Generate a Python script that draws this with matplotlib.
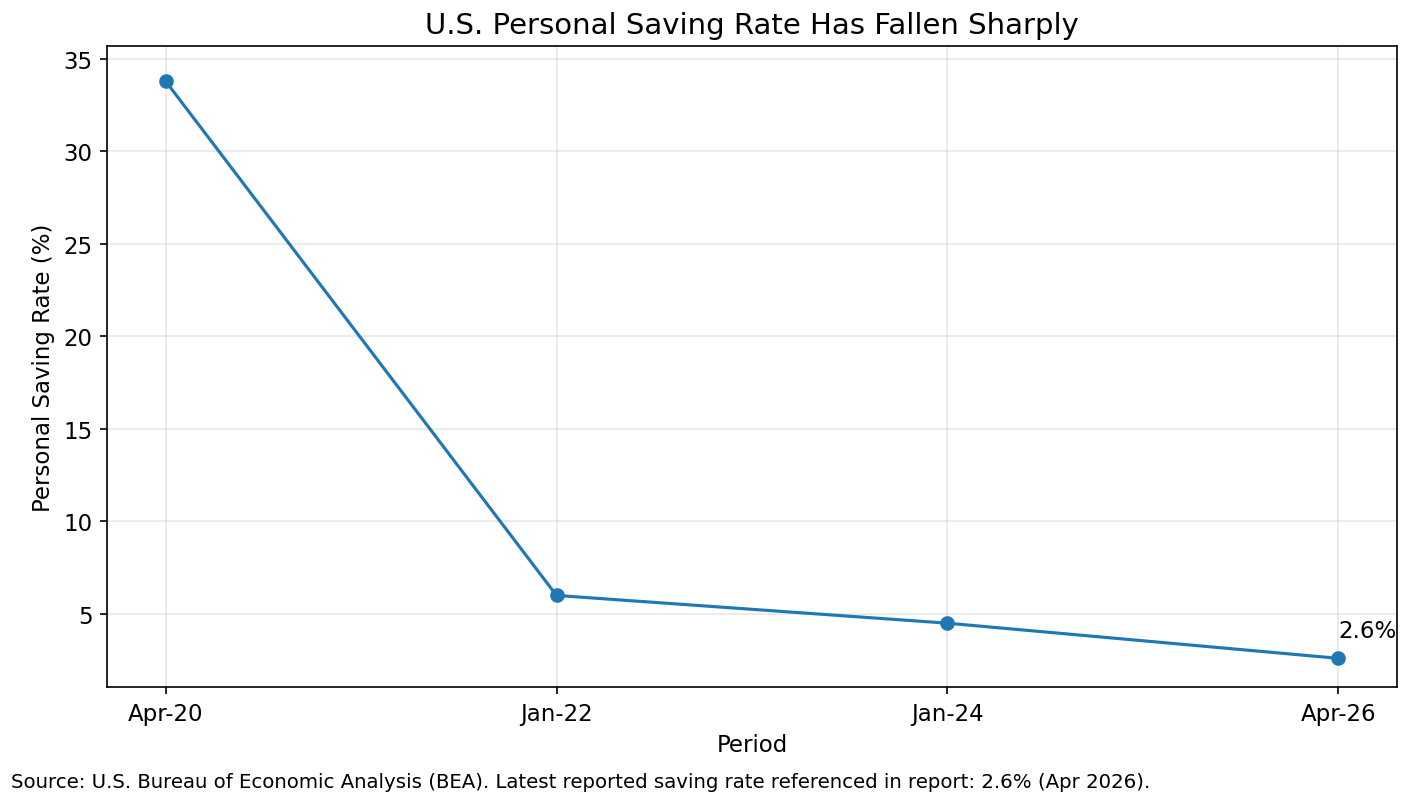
import matplotlib
matplotlib.use("Agg")
import matplotlib.pyplot as plt

periods = ["Apr-20", "Jan-22", "Jan-24", "Apr-26"]
saving_rate = [33.8, 6.0, 4.5, 2.6]

fig = plt.figure(figsize=(9.413, 5.333), dpi=150)
ax = fig.add_axes([107 / 1412, 1 - 688 / 800, (1397 - 107) / 1412, (688 - 47) / 800])

x = list(range(len(periods)))
ax.plot(x, saving_rate, marker="o", color="#1f77b4", lw=1.5, markersize=6)
ax.annotate(f"{saving_rate[-1]}%", (x[-1], saving_rate[-1]),
            textcoords="offset points", xytext=(0, 10), fontsize=11)
ax.set_xticks(x)
ax.set_xticklabels(periods)
ax.tick_params(labelsize=11)
ax.set_ylim(1.05, 35.7)
ax.set_title("U.S. Personal Saving Rate Has Fallen Sharply", fontsize=14)
ax.set_xlabel("Period", fontsize=11)
ax.set_ylabel("Personal Saving Rate (%)", fontsize=11)
ax.grid(True, alpha=0.3)

fig.text(0.008, 0.015, "Source: U.S. Bureau of Economic Analysis (BEA). Latest reported saving rate "
         "referenced in report: 2.6% (Apr 2026).", fontsize=9.5)

fig.savefig("out.png")
